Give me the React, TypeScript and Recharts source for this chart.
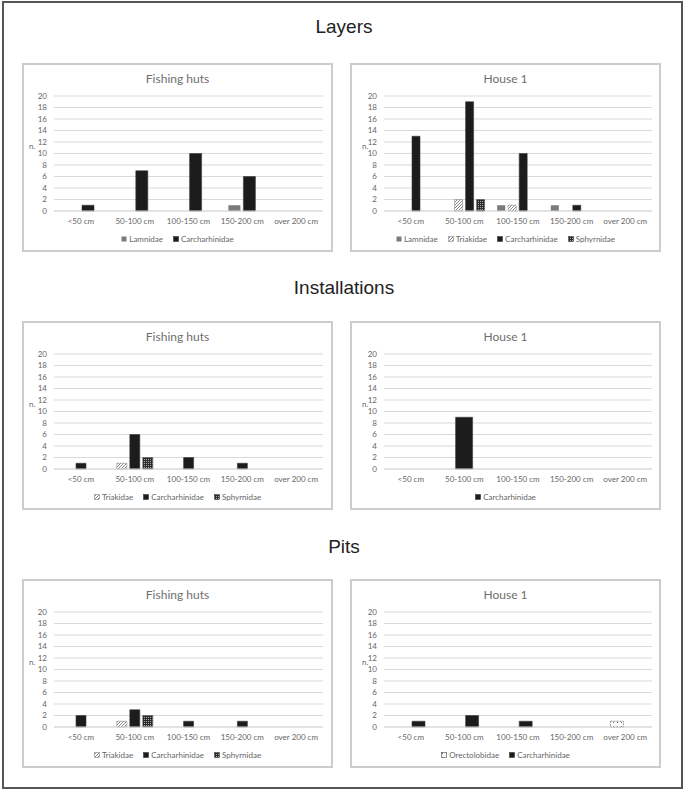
import { BarChart, Bar, XAxis, YAxis, CartesianGrid, Legend } from 'recharts';

const sizes = ['<50 cm', '50-100 cm', '100-150 cm', '150-200 cm', 'over 200 cm'];
const yTicks = [0, 2, 4, 6, 8, 10, 12, 14, 16, 18, 20];

// Layers
const layersHutsLamnidae = [0, 0, 0, 1, 0];
const layersHutsCarch = [1, 7, 10, 6, 0];
const layersHouseLamnidae = [0, 0, 1, 1, 0];
const layersHouseTriakidae = [0, 2, 1, 0, 0];
const layersHouseCarch = [13, 19, 10, 1, 0];
const layersHouseSphyrnidae = [0, 2, 0, 0, 0];

// Installations
const instHutsTriakidae = [0, 1, 0, 0, 0];
const instHutsCarch = [1, 6, 2, 1, 0];
const instHutsSphyrnidae = [0, 2, 0, 0, 0];
const instHouseCarch = [0, 9, 0, 0, 0];

// Pits
const pitsHutsTriakidae = [0, 1, 0, 0, 0];
const pitsHutsCarch = [2, 3, 1, 1, 0];
const pitsHutsSphyrnidae = [0, 2, 0, 0, 0];
const pitsHouseOrectolobidae = [0, 0, 0, 0, 1];
const pitsHouseCarch = [1, 2, 1, 0, 0];

const FONT = 'Lato, "Liberation Sans", sans-serif';
const TXT = '#666666';

const STYLES: Record<string, { fill: string; stroke?: string; dash?: string }> = {
  Lamnidae: { fill: '#7a7a7a' },
  Triakidae: { fill: 'url(#pTri)', stroke: '#8a8a8a' },
  Carcharhinidae: { fill: '#1c1c1c', stroke: '#3a3a3a' },
  Sphyrnidae: { fill: 'url(#pSph)', stroke: '#444' },
  Orectolobidae: { fill: 'url(#pOre)', stroke: '#444', dash: '2 1' },
};

type Series = { name: string; values: number[] };

const buildRows = (series: Series[]) =>
  sizes.map((size, i) => {
    const row: Record<string, any> = { size };
    series.forEach((s) => (row[s.name] = s.values[i]));
    return row;
  });

const Swatch = ({ name }: { name: string }) => {
  const st = STYLES[name];
  return (
    <svg width={6} height={6} style={{ marginRight: 2 }}>
      <rect x={0.5} y={0.5} width={5} height={5} fill={st.fill} stroke={st.stroke || 'none'} strokeWidth={0.6} />
    </svg>
  );
};

const Panel = ({ left, top, title, series, yw, mr, barSize }: { left: number; top: number; title: string; series: Series[]; yw: number; mr: number; barSize: number }) => {
  const data = buildRows(series);
  const legendContent = () => (
    <div style={{ display: 'flex', justifyContent: 'center', alignItems: 'center', gap: 10, fontFamily: FONT, fontSize: 8, color: TXT, lineHeight: '8px' }}>
      {series.map((s) => (
        <span key={s.name} style={{ display: 'flex', alignItems: 'center' }}>
          <Swatch name={s.name} />
          {s.name}
        </span>
      ))}
    </div>
  );
  return (
    <div style={{ position: 'absolute', left, top, width: 311, height: 189, border: '2px solid #cccccc', boxSizing: 'border-box', background: '#fff' }}>
      <div style={{ position: 'absolute', left: 0, top: 6, width: 307, textAlign: 'center', fontFamily: FONT, fontSize: 12, color: '#6e6e6e' }}>{title}</div>
      <div style={{ position: 'absolute', left: 0, top: 0 }}>
        <BarChart width={307} height={185} data={data} margin={{ top: 31, right: mr, bottom: 19, left: 0 }} barSize={barSize} barGap={3}>
          <CartesianGrid vertical={false} stroke="#d9d9d9" strokeWidth={1} />
          <XAxis dataKey="size" height={20} tickLine={false} axisLine={{ stroke: '#d9d9d9' }} tickSize={4} tickMargin={3} interval={0}
            tick={{ fontSize: 8, fill: TXT, fontFamily: FONT }} />
          <YAxis width={yw} domain={[0, 20]} ticks={yTicks} interval={0} tickLine={false} axisLine={false} tickSize={4} tickMargin={3}
            tick={{ fontSize: 8, fill: TXT, fontFamily: FONT }}
            label={{ value: 'n.', position: 'insideLeft', offset: yw > 31 ? 10 : 5, dy: -7, fontSize: 8, fill: TXT, fontFamily: FONT }} />
          <Legend verticalAlign="middle" layout="horizontal" content={legendContent}
            wrapperStyle={{ top: 170, left: 0, width: 307 }} />
          {series.map((s) => {
            const st = STYLES[s.name];
            return (
              <Bar key={s.name} dataKey={s.name} fill={st.fill} stroke={st.stroke} strokeWidth={0.6}
                strokeDasharray={st.dash} isAnimationActive={false} />
            );
          })}
        </BarChart>
      </div>
    </div>
  );
};

const SectionTitle = ({ text, top }: { text: string; top: number }) => (
  <div style={{ position: 'absolute', left: 0, top, width: 688, textAlign: 'center', fontFamily: '"Liberation Sans", Arial, sans-serif', fontSize: 19, color: '#222' }}>{text}</div>
);

export default function App() {
  return (
    <div style={{ position: 'absolute', left: 0, top: 0, width: 685, height: 790, background: '#fff' }}>
      <svg width={0} height={0} style={{ position: 'absolute' }}>
        <defs>
          <pattern id="pTri" patternUnits="userSpaceOnUse" width={3} height={3}>
            <rect width={3} height={3} fill="#fff" />
            <path d="M0,3 L3,0 M-1,1 L1,-1 M2,4 L4,2" stroke="#666" strokeWidth={0.8} />
          </pattern>
          <pattern id="pSph" patternUnits="userSpaceOnUse" width={2} height={2}>
            <rect width={2} height={2} fill="#2a2a2a" />
            <rect x={0} y={0} width={1} height={1} fill="#a8a8a8" />
          </pattern>
          <pattern id="pOre" patternUnits="userSpaceOnUse" width={4} height={4}>
            <rect width={4} height={4} fill="#fff" />
            <rect x={1} y={1} width={1} height={1} fill="#666" />
          </pattern>
        </defs>
      </svg>
      <div style={{ position: 'absolute', left: 2, top: 1, width: 681, height: 788, border: '2px solid #555', boxSizing: 'border-box' }} />

      <SectionTitle text="Layers" top={16} />
      <Panel left={22} top={63} title="Fishing huts" yw={30} mr={8} barSize={12}
        series={[{ name: 'Lamnidae', values: layersHutsLamnidae }, { name: 'Carcharhinidae', values: layersHutsCarch }]} />
      <Panel left={350} top={63} title="House 1" yw={32} mr={7} barSize={8}
        series={[
          { name: 'Lamnidae', values: layersHouseLamnidae },
          { name: 'Triakidae', values: layersHouseTriakidae },
          { name: 'Carcharhinidae', values: layersHouseCarch },
          { name: 'Sphyrnidae', values: layersHouseSphyrnidae },
        ]} />

      <SectionTitle text="Installations" top={277} />
      <Panel left={22} top={321} title="Fishing huts" yw={30} mr={8} barSize={10}
        series={[
          { name: 'Triakidae', values: instHutsTriakidae },
          { name: 'Carcharhinidae', values: instHutsCarch },
          { name: 'Sphyrnidae', values: instHutsSphyrnidae },
        ]} />
      <Panel left={350} top={321} title="House 1" yw={32} mr={7} barSize={17}
        series={[{ name: 'Carcharhinidae', values: instHouseCarch }]} />

      <SectionTitle text="Pits" top={536} />
      <Panel left={22} top={579} title="Fishing huts" yw={30} mr={8} barSize={10}
        series={[
          { name: 'Triakidae', values: pitsHutsTriakidae },
          { name: 'Carcharhinidae', values: pitsHutsCarch },
          { name: 'Sphyrnidae', values: pitsHutsSphyrnidae },
        ]} />
      <Panel left={350} top={579} title="House 1" yw={32} mr={7} barSize={13}
        series={[{ name: 'Orectolobidae', values: pitsHouseOrectolobidae }, { name: 'Carcharhinidae', values: pitsHouseCarch }]} />
    </div>
  );
}
